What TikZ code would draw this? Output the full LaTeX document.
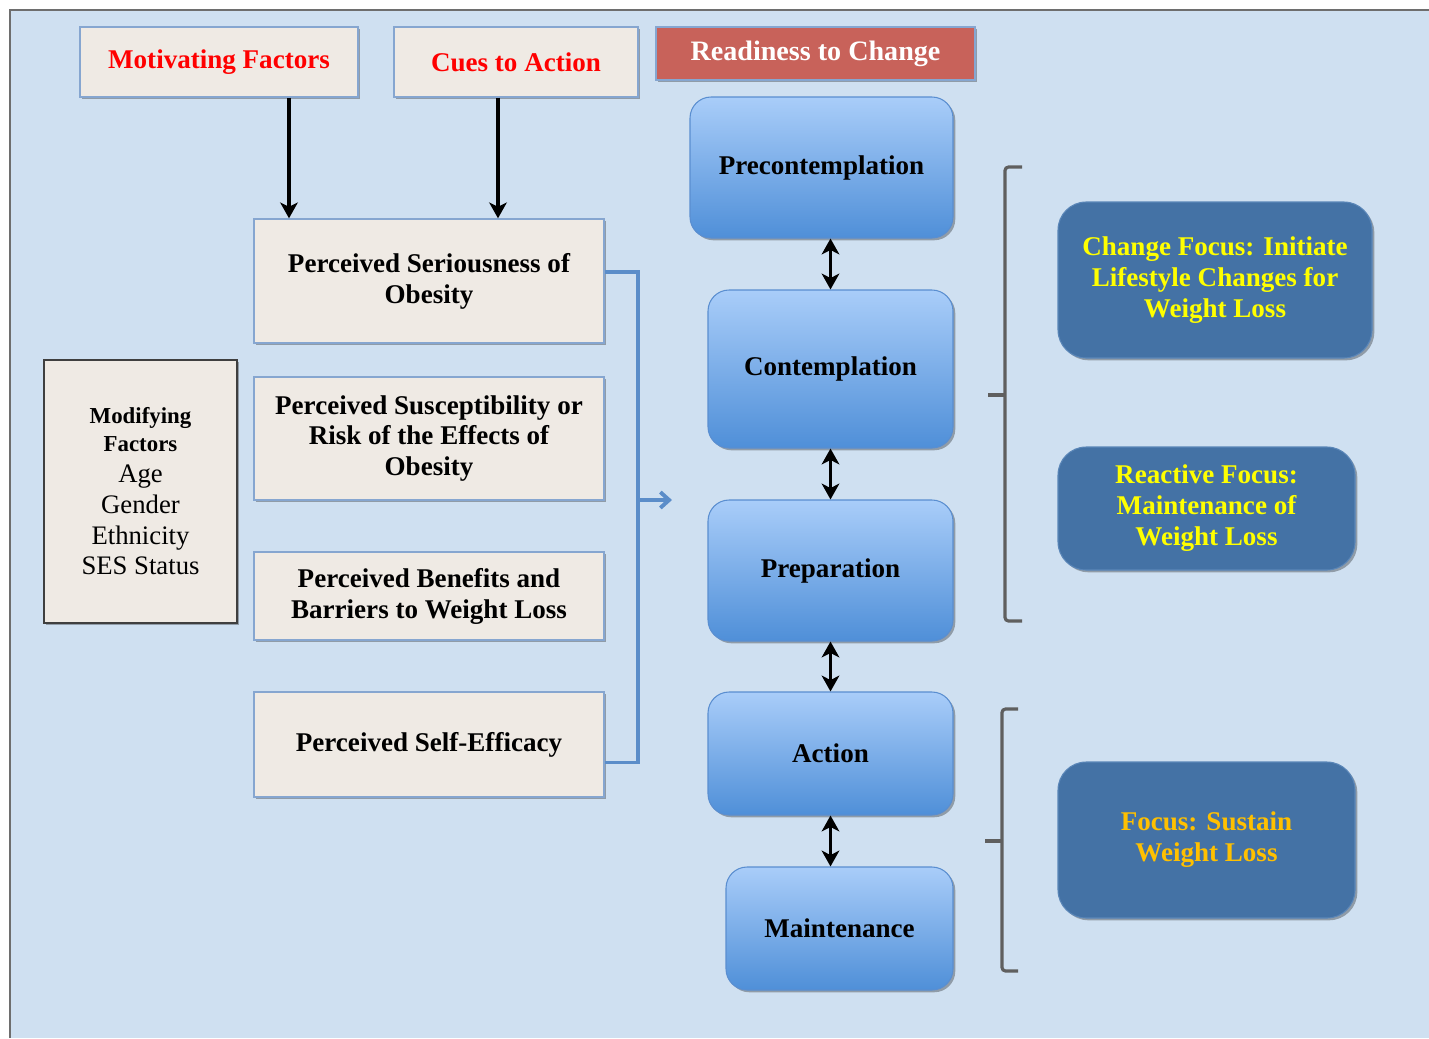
\documentclass[tikz,border=0pt]{standalone}
\usepackage{fontspec}
\setmainfont{Liberation Serif}
\usepackage{xcolor}
\usetikzlibrary{
	positioning,    % placement
	arrows.meta,    % Stealth tips
	calc,           % offsets on anchors
	shadows         % drop shadows
}
\definecolor{bgblue}{HTML}{CFE0F1}
\definecolor{beige}{HTML}{EFEAE4}
\definecolor{beigeline}{HTML}{86A6D0}
\definecolor{modgray}{HTML}{3F3F3F}
\definecolor{factred}{HTML}{FF0000}
\definecolor{readyred}{HTML}{C8625A}
\definecolor{stagetop}{HTML}{A9CDF9}
\definecolor{stagebot}{HTML}{4F8FD8}
\definecolor{stageline}{HTML}{5A8ED0}
\definecolor{focusblue}{HTML}{4472A5}
\definecolor{focusline}{HTML}{5A86B8}
\definecolor{focusyellow}{HTML}{FFFF00}
\definecolor{focusgold}{HTML}{FFC000}
\definecolor{linkblue}{HTML}{5B8DC9}
\definecolor{bracketgray}{HTML}{5F5F5F}
\definecolor{framegray}{HTML}{6E6E6E}

\begin{document}
\begin{tikzpicture}[x=0.02cm, y=-0.02cm, >={Stealth[length=9pt, width=10pt, inset=2.5pt]},
	every node/.style={font=\fontsize{15.4}{17.6}\selectfont\bfseries, align=center, inner sep=0pt},
	wh/.style 2 args={minimum width=#1*0.02cm, minimum height=#2*0.02cm},
	shadowed/.style={drop shadow={shadow xshift=1.3pt, shadow yshift=-1.3pt, opacity=.3, fill=black}},
	factor/.style={rectangle, fill=beige, draw=beigeline, line width=0.8pt, shadowed},
	header/.style={rectangle, fill=readyred, draw=beigeline, line width=0.6pt, text=white, shadowed,
		font=\fontsize{16}{18}\selectfont\bfseries},
	stage/.style={rectangle, rounded corners=12pt, top color=stagetop, bottom color=stagebot,
		draw=stageline, line width=0.6pt, shadowed},
	focus/.style={rectangle, rounded corners=16pt, fill=focusblue, draw=focusline, line width=0.6pt,
		text=focusyellow, shadowed},
	arrowline/.style={->, line width=2.1pt, black},
	dblarrow/.style={<->, line width=2.1pt, black},
	link/.style={line width=2.2pt, linkblue},
	bracket/.style={line width=1.8pt, bracketgray, rounded corners=2pt}
	]
	% --- Sfondo e cornice ---
	\useasboundingbox (0,0) rectangle (1429,1038);
	\fill[bgblue] (10,10) rectangle (1429,1038);
	\draw[framegray, line width=1.7pt] (10,1038) -- (10,10) -- (1429,10);
	
	% --- Fattori ---
	\node[factor, wh={278}{70}, text=factred] (motiv) at (219,62) {Motivating Factors};
	\node[factor, wh={244}{70}, text=factred] (cues) at (516,62) {Cues to Action};
	\node[header, wh={319}{53}] (ready) at (815.5,53.5) {Readiness to Change};
	
	\node[factor, wh={350}{124}] (serious) at (429,281) {Perceived Seriousness of\\Obesity};
	\node[factor, wh={350}{123}] (suscept) at (429,438.5) {Perceived Susceptibility or\\Risk of the Effects of\\Obesity};
	\node[factor, wh={350}{88}] (benefit) at (429,596) {Perceived Benefits and\\Barriers to Weight Loss};
	\node[factor, wh={350}{105}] (efficacy) at (429,744.5) {Perceived Self-Efficacy};
	
	\node[factor, draw=modgray, line width=1.4pt, wh={193}{263},
		font=\fontsize{15.2}{17.6}\selectfont] (modify) at (140.5,491.5)
		{{\fontsize{13}{15}\selectfont\bfseries Modifying}\\[-2pt]{\fontsize{13}{15}\selectfont\bfseries Factors}\\Age\\Gender\\Ethnicity\\SES Status};
	
	% --- Frecce dai fattori ---
	\coordinate (mx) at (289,0);
	\coordinate (cx) at (498,0);
	\draw[arrowline] (motiv.south -| mx) -- (serious.north -| mx);
	\draw[arrowline] (cues.south -| cx) -- (serious.north -| cx);
	
	% --- Collegamento blu verso gli stadi ---
	\coordinate (bus) at (638,500);
	\coordinate (pointer) at (672,500);
	\draw[link] ($(serious.east)+(0,-9)$) -| (bus) |- ($(efficacy.east)+(0,18)$);
	\draw[link, -{Straight Barb[length=5pt, width=9pt]}] (bus) -- (pointer);
	
	% --- Stadi ---
	\node[stage, wh={263}{141}] (precon) at (821.5,167.5) {Precontemplation};
	\node[stage, wh={245}{158}] (contem) at (830.5,369) {Contemplation};
	\node[stage, wh={245}{141}] (prep) at (830.5,570.5) {Preparation};
	\node[stage, wh={245}{123}] (action) at (830.5,753.5) {Action};
	\node[stage, wh={227}{123}] (mainten) at (839.5,928.5) {Maintenance};
	
	\draw[dblarrow] (precon.south -| contem) -- (contem.north);
	\draw[dblarrow] (contem.south) -- (prep.north);
	\draw[dblarrow] (prep.south) -- (action.north);
	\draw[dblarrow] (action.south) -- (mainten.north -| action);
	
	% --- Parentesi ---
	\draw[bracket] (1022,167) -- (1005,167) -- (1005,621) -- (1022,621);
	\draw[bracket] (1005,395) -- (988,395);
	\draw[bracket] (1018,709) -- (1002,709) -- (1002,971) -- (1018,971);
	\draw[bracket] (1002,841) -- (985,841);
	
	% --- Obiettivi ---
	\node[focus, wh={314}{156}] (change) at (1215,280) {Change Focus: Initiate\\Lifestyle Changes for\\Weight Loss};
	\node[focus, wh={297}{123}] (reactive) at (1206.5,508.5) {Reactive Focus:\\Maintenance of\\Weight Loss};
	\node[focus, wh={297}{156}, text=focusgold] (sustain) at (1206.5,840) {Focus: Sustain\\Weight Loss};
\end{tikzpicture}
\end{document}
